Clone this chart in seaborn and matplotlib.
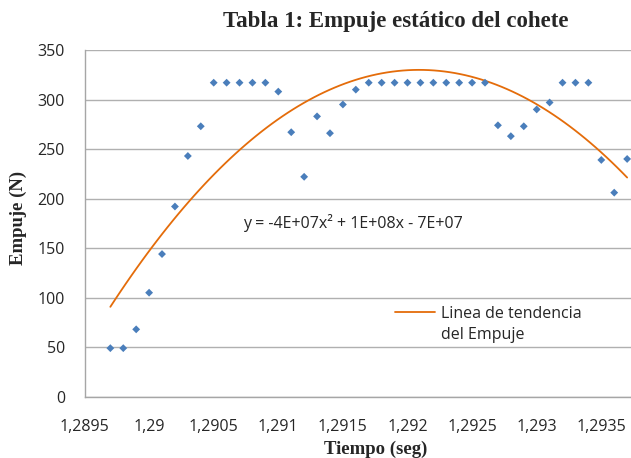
import numpy as np
import pandas as pd
import matplotlib
matplotlib.use("Agg")
import matplotlib.pyplot as plt
from matplotlib.lines import Line2D
from matplotlib.ticker import FuncFormatter
import seaborn as sns

# time (s) of each sample and static thrust (N)
tiempo = [1.2897 + 0.0001 * i for i in range(41)]
empuje = [49, 49, 68, 105, 144, 192, 243, 273, 317, 317,
          317, 317, 317, 308, 267, 222, 283, 266, 295, 310,
          317, 317, 317, 317, 317, 317, 317, 317, 317, 317,
          274, 263, 273, 290, 297, 317, 317, 317, 239, 206,
          240]
x_ticks = [1.2895, 1.29, 1.2905, 1.291, 1.2915, 1.292, 1.2925, 1.293, 1.2935]
y_ticks = [0, 50, 100, 150, 200, 250, 300, 350]
ecuacion = "y = -4E+07x\u00b2 + 1E+08x - 7E+07"

df = pd.DataFrame({"Tiempo": tiempo, "Empuje": empuje})

sns.set_style("white")
plt.rcParams["font.family"] = ["Open Sans", "DejaVu Sans"]

fig = plt.figure(figsize=(6.31, 4.58), dpi=100)
ax = fig.add_axes([84.5 / 631, 61.3 / 458, 546.5 / 631, 346.7 / 458])

sns.regplot(data=df, x="Tiempo", y="Empuje", order=2, ci=None, scatter=False,
            line_kws={"color": "#E46C0A", "lw": 1.3}, ax=ax)
sns.scatterplot(data=df, x="Tiempo", y="Empuje", marker="D", s=16,
                color="#4A7EBB", edgecolor="none", ax=ax, zorder=3)

ax.set_xlim(1.2895, 1.2895 + 546.5 / 64.6 * 0.0005)
ax.set_ylim(0, 350)
ax.set_xticks(x_ticks)
ax.set_yticks(y_ticks)
ax.xaxis.set_major_formatter(FuncFormatter(lambda v, p: f"{v:g}".replace(".", ",")))
ax.tick_params(length=0, labelsize=11.5, labelcolor="#262626")
ax.tick_params(axis="x", pad=16)
ax.tick_params(axis="y", pad=14)
ax.grid(axis="y", color="#b0b0b0", lw=1)
ax.set_axisbelow(True)
for s in ["top", "right"]:
    ax.spines[s].set_visible(False)
for s in ["left", "bottom"]:
    ax.spines[s].set_color("#a6a6a6")
    ax.spines[s].set_linewidth(1)

serif = ["Liberation Serif", "DejaVu Serif"]
ax.set_xlabel("Tiempo (seg)", family=serif, fontweight="bold", fontsize=13.5)
ax.set_ylabel("Empuje (N)", family=serif, fontweight="bold", fontsize=13.5)
ax.xaxis.set_label_coords(0.532, -0.128)
ax.yaxis.set_label_coords(-0.106, 0.515)
fig.text(396 / 631, 1 - 22 / 458, "Tabla 1: Empuje est\u00e1tico del cohete",
         family=serif, fontweight="bold", fontsize=16.5, ha="center", va="center")

ax.text(1.290727, 175.6, ecuacion, fontsize=11.5, color="#262626", va="center")

# legend: trend line next to the first line of its two-line label
linea = ax.get_lines()[0]
vacio = Line2D([], [], color="none")
ax.legend(handles=[linea, vacio], labels=["Linea de tendencia", "del Empuje"],
          frameon=False, loc="upper left", bbox_to_anchor=(0.568, 0.262),
          borderpad=0, borderaxespad=0, handlelength=2.5, handletextpad=0.4,
          fontsize=11.5, labelspacing=0.3, labelcolor="#262626")

plt.savefig("out.png", dpi=100)
plt.close()
